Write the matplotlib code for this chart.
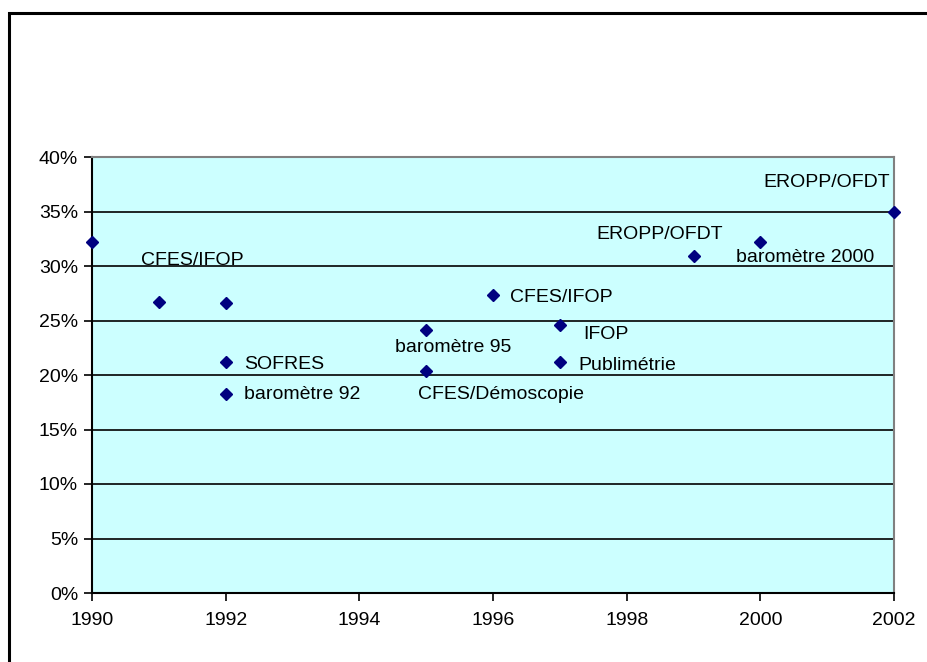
import matplotlib
matplotlib.use("Agg")
import matplotlib.pyplot as plt
from matplotlib.patches import Rectangle
from matplotlib.ticker import FuncFormatter, MultipleLocator

plt.rcParams['font.family'] = ['Liberation Sans', 'DejaVu Sans']

years = [1990, 1991, 1992, 1992, 1992, 1995, 1995, 1996, 1997, 1997, 1999, 2000, 2002]
values = [32.2, 26.7, 26.6, 21.2, 18.3, 24.1, 20.4, 27.3, 24.6, 21.2, 30.9, 32.2, 35.0]
labels = ["", "CFES/IFOP", "", "SOFRES", "baromètre 92", "baromètre 95",
          "CFES/Démoscopie", "CFES/IFOP", "IFOP", "Publimétrie", "EROPP/OFDT",
          "baromètre 2000", "EROPP/OFDT"]
# label offsets in pixels (dx, dy) and horizontal alignment
label_pos = [(0, 0, 'left'), (33, 41, 'center'), (0, 0, 'left'), (18, -3, 'left'),
             (18, -1, 'left'), (27, -17, 'center'), (75, -24, 'center'),
             (17, -2, 'left'), (23, -10, 'left'), (19, -4, 'left'),
             (-34, 22, 'center'), (45, -15, 'center'), (-4, 29, 'right')]

fig = plt.figure(figsize=(9.28, 6.62), dpi=100)
fig.patches.append(Rectangle((9.5 / 928, -0.05), 1.0, 1 - 13 / 662 + 0.05,
                             transform=fig.transFigure, fill=False,
                             edgecolor='black', linewidth=2.2))

ax = fig.add_axes([92 / 928, (662 - 593) / 662, 802 / 928, 436 / 662])
ax.set_facecolor('#CCFFFF')
ax.set_xlim(1990, 2002)
ax.set_ylim(0, 40)
ax.yaxis.set_major_locator(MultipleLocator(5))
ax.xaxis.set_major_locator(MultipleLocator(2))
ax.yaxis.set_major_formatter(FuncFormatter(lambda v, p: f"{v:.0f}%"))
ax.grid(axis='y', color='black', linewidth=1.2)
ax.set_axisbelow(True)
for s in ['left', 'bottom']:
    ax.spines[s].set_color('black')
    ax.spines[s].set_linewidth(1.5)
for s in ['top', 'right']:
    ax.spines[s].set_color('#808080')
    ax.spines[s].set_linewidth(1.5)
ax.tick_params(axis='both', direction='out', length=6, width=1.2, labelsize=14, pad=4)
ax.tick_params(axis='x', pad=8)

ax.plot(years, values, linestyle='none', marker='D', markersize=6.6,
        color='#000080', clip_on=False, zorder=5)

for x, y, lab, (dx, dy, ha) in zip(years, values, labels, label_pos):
    if lab:
        ax.annotate(lab, (x, y), xytext=(dx, dy), textcoords='offset pixels',
                    ha=ha, va='center', fontsize=14, color='black')

fig.savefig('out.png', dpi=100)
